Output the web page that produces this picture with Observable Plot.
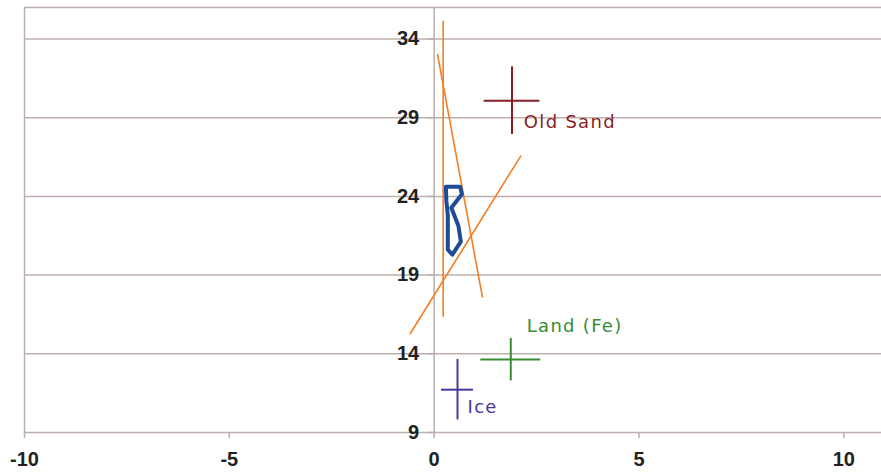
<!DOCTYPE html>
<html>
<head>
<meta charset="utf-8">
<script src="https://cdn.jsdelivr.net/npm/d3@7"></script>
<script src="https://cdn.jsdelivr.net/npm/@observablehq/plot@0.6"></script>
<style>
  html, body { margin: 0; padding: 0; background: #fff; }
  #chart { width: 881px; height: 473px; overflow: hidden; }
</style>
</head>
<body>
<div id="chart"></div>
<script>
// Axis ticks
const xTicks = [-10, -5, 0, 5, 10];
const yTicks = [9, 14, 19, 24, 29, 34];
const yTop = 36;

// Sources with uncertainty crosses
const sourceNames = ["Old Sand", "Land (Fe)", "Ice"];
const sourceX = [1.90, 1.87, 0.57];
const sourceY = [30.08, 13.63, 11.72];
const sourceXErr = [0.68, 0.73, 0.39];
const sourceYErr = [2.15, 1.35, 1.92];
const sourceColors = ["#861f25", "#3b8a35", "#46399a"];
const labelX = [2.19, 2.26, 0.815];
const labelY = [28.70, 15.73, 10.60];

// Orange mixing lines (start and end points)
const lineX1 = [0.22, 0.08, -0.59];
const lineY1 = [35.16, 33.05, 15.26];
const lineX2 = [0.22, 1.18, 2.12];
const lineY2 = [16.36, 17.58, 26.59];

// Blue outline polygon
const polyX = [0.286, 0.635, 0.676, 0.420, 0.591, 0.652, 0.444, 0.334, 0.334, 0.298, 0.286];
const polyY = [24.62, 24.62, 24.14, 23.28, 22.14, 21.12, 20.30, 20.61, 22.77, 23.73, 24.62];

const gridColor = "#bdafad";
const textColor = "#222222";

const sources = sourceNames.map((name, i) => ({
  name, x: sourceX[i], y: sourceY[i], xe: sourceXErr[i], ye: sourceYErr[i],
  color: sourceColors[i], lx: labelX[i], ly: labelY[i]
}));
const lines = lineX1.map((_, i) => ({x1: lineX1[i], y1: lineY1[i], x2: lineX2[i], y2: lineY2[i]}));
const poly = polyX.map((x, i) => ({x, y: polyY[i]}));

const chart = Plot.plot({
  width: 881,
  height: 473,
  marginLeft: 24,
  marginRight: 0,
  marginTop: 7,
  marginBottom: 41,
  style: {background: "#fff", fontFamily: "'Liberation Sans', Arial, sans-serif"},
  x: {domain: [-10, 10.92], axis: null},
  y: {domain: [9, yTop], axis: null},
  marks: [
    Plot.ruleY([...yTicks, yTop], {stroke: gridColor, strokeWidth: 1.5}),
    Plot.ruleX([-10], {y1: 9, y2: yTop, stroke: gridColor, strokeWidth: 1.5}),
    Plot.ruleX([0], {y1: 9, y2: yTop, stroke: gridColor, strokeWidth: 1.5}),
    Plot.ruleY(yTicks, {x1: -0.15, x2: 0, stroke: gridColor, strokeWidth: 1.5}),
    Plot.axisX({ticks: xTicks, tickSize: 6, tickPadding: 13, stroke: gridColor, strokeWidth: 1.5,
      fill: textColor, fontSize: 20, fontWeight: "bold", tickFormat: d => String(d)}),
    Plot.text(yTicks, {x: 0, y: d => d, text: d => String(d), dx: -15, textAnchor: "end",
      lineAnchor: "middle", fontSize: 20, fontWeight: "bold", fill: textColor}),
    Plot.link(lines, {x1: "x1", y1: "y1", x2: "x2", y2: "y2", stroke: "#f47d22", strokeWidth: 1.6}),
    Plot.line(poly, {x: "x", y: "y", stroke: "#1f4c97", strokeWidth: 4, strokeLinejoin: "round"}),
    Plot.ruleY(sources, {y: "y", x1: d => d.x - d.xe, x2: d => d.x + d.xe, stroke: d => d.color, strokeWidth: 2}),
    Plot.ruleX(sources, {x: "x", y1: d => d.y - d.ye, y2: d => d.y + d.ye, stroke: d => d.color, strokeWidth: 2}),
    Plot.text(sources, {x: "lx", y: "ly", text: "name", fill: d => d.color, textAnchor: "start",
      lineAnchor: "middle", fontSize: 18, fontFamily: "'DejaVu Sans', sans-serif", className: "srclbl"})
  ]
});
document.getElementById("chart").appendChild(chart);
d3.select(chart).selectAll(".srclbl text").attr("letter-spacing", "1.3px");
</script>
</body>
</html>
